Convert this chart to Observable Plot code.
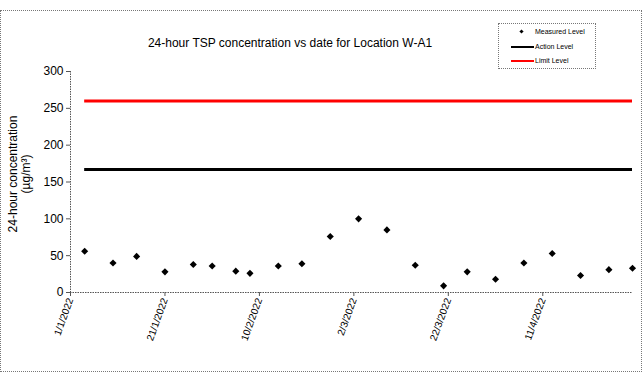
<!DOCTYPE html>
<html>
<head>
<meta charset="utf-8">
<script src="https://cdn.jsdelivr.net/npm/d3@7"></script>
<script src="https://cdn.jsdelivr.net/npm/@observablehq/plot@0.6"></script>
<style>
  html, body { margin: 0; padding: 0; background: #fff; }
  #wrap { position: relative; width: 643px; height: 384px; font-family: "Liberation Sans", Arial, sans-serif; }
  #frame { position: absolute; left: 0; top: 10px; width: 640px; height: 360px; border: 1px dotted #777; pointer-events: none; }
  #title { position: absolute; left: 0; width: 580px; top: 36px; text-align: center; font-size: 12px; color: #000; }
  #legend { position: absolute; left: 498px; top: 23px; width: 96px; height: 44px; border: 1px dotted #777; font-size: 7px; color: #000; }
  .lg { position: absolute; left: 0; height: 10px; width: 96px; }
  .lg span { position: absolute; left: 36px; top: 0; line-height: 10px; }
  .lg i { position: absolute; }
  svg { position: absolute; left: 0; top: 0; }
</style>
</head>
<body>
<div id="wrap">
  <div id="chart"></div>
  <div id="frame"></div>
  <div id="title">24-hour TSP concentration vs date for Location W-A1</div>
  <div id="legend"></div>
</div>
<script>
// Data
const dates = ["2022-01-04","2022-01-10","2022-01-15","2022-01-21","2022-01-27","2022-01-31",
  "2022-02-05","2022-02-08","2022-02-14","2022-02-19","2022-02-25","2022-03-03",
  "2022-03-09","2022-03-15","2022-03-21","2022-03-26","2022-04-01","2022-04-07",
  "2022-04-13","2022-04-19","2022-04-25","2022-04-30"];
const measured = [56, 40, 49, 28, 38, 36, 29, 26, 36, 39, 76, 100, 85, 37, 9, 28, 18, 40, 53, 23, 31, 33];
const actionLevel = 167;
const limitLevel = 260;
const xTickDates = ["2022-01-01","2022-01-21","2022-02-10","2022-03-02","2022-03-22","2022-04-11"];
const yTicks = [0, 50, 100, 150, 200, 250, 300];
const xDomain = ["2022-01-01", "2022-04-30"];
const seriesNames = ["Measured Level", "Action Level", "Limit Level"];

const parse = s => new Date(s + "T00:00:00Z");
const pts = dates.map((d, i) => ({date: parse(d), value: measured[i]}));
const first = pts[0].date, last = pts[pts.length - 1].date;
const levels = [
  {name: seriesNames[1], value: actionLevel, color: "#000000"},
  {name: seriesNames[2], value: limitLevel, color: "#ff0000"}
];
const fmt = d => `${d.getUTCDate()}/${d.getUTCMonth() + 1}/${d.getUTCFullYear()}`;

const chart = Plot.plot({
  width: 643,
  height: 384,
  marginLeft: 70,
  marginRight: 11,
  marginTop: 71,
  marginBottom: 92,
  style: {fontFamily: "'Liberation Sans', Arial, sans-serif", background: "transparent", overflow: "visible"},
  x: {type: "utc", domain: xDomain.map(parse)},
  y: {domain: [0, 300]},
  marks: [
    Plot.ruleY([0], {stroke: "#555", strokeDasharray: "1.5 1"}),
    Plot.ruleX([xDomain[0]].map(parse), {stroke: "#555", strokeDasharray: "1.5 1"}),
    Plot.axisY({ticks: yTicks, tickSize: 4, tickPadding: 3, fontSize: 12, label: null, stroke: "#555", color: "#000"}),
    Plot.axisX({ticks: xTickDates.map(parse), tickFormat: fmt, tickSize: 4, tickRotate: -70, tickPadding: 2, fontSize: 10, label: null, stroke: "#555", color: "#000"}),
    Plot.ruleY(levels, {y: "value", x1: () => first, x2: () => last, stroke: "color", strokeWidth: 3}),
    Plot.dot(pts, {x: "date", y: "value", symbol: "diamond2", r: 3.2, fill: "#000", stroke: "none"}),
    Plot.text(["24-hour concentration\n(µg/m³)"], {frameAnchor: "left", textAnchor: "middle", lineAnchor: "middle", dx: -51.5, dy: -8, rotate: -90, fontSize: 12, fill: "#000", lineHeight: 1.08})
  ]
});
document.getElementById("chart").appendChild(chart);

// Legend
const lg = document.getElementById("legend");
const rows = [
  {name: seriesNames[0], kind: "dot"},
  {name: seriesNames[1], kind: "line", color: levels[0].color},
  {name: seriesNames[2], kind: "line", color: levels[1].color}
];
rows.forEach((r, i) => {
  const row = document.createElement("div");
  row.className = "lg";
  row.style.top = (3 + i * 14.5) + "px";
  const sym = document.createElement("i");
  if (r.kind === "dot") {
    sym.style.cssText = "left:21px;top:3px;width:3px;height:3px;background:#000;transform:rotate(45deg);";
  } else {
    sym.style.cssText = `left:12px;top:4px;width:23px;height:2px;background:${r.color};`;
  }
  const t = document.createElement("span");
  t.textContent = r.name;
  row.appendChild(sym);
  row.appendChild(t);
  lg.appendChild(row);
});
</script>
</body>
</html>
